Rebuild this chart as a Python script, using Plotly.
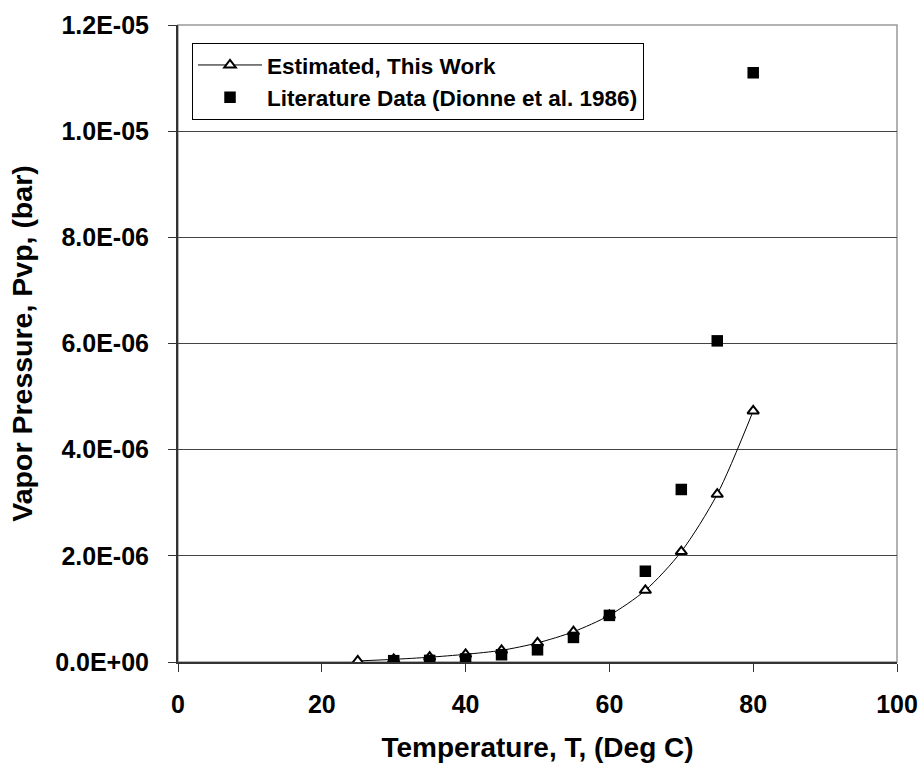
import plotly.graph_objects as go

# Temperature (deg C)
temp_est = [25, 30, 35, 40, 45, 50, 55, 60, 65, 70, 75, 80]
pvp_est = [0.02e-6, 0.05e-6, 0.09e-6, 0.145e-6, 0.22e-6, 0.36e-6, 0.57e-6,
           0.88e-6, 1.35e-6, 2.08e-6, 3.16e-6, 4.73e-6]

temp_lit = [30, 35, 40, 45, 50, 55, 60, 65, 70, 75, 80]
pvp_lit = [0.025e-6, 0.03e-6, 0.057e-6, 0.137e-6, 0.23e-6, 0.463e-6,
           0.878e-6, 1.71e-6, 3.25e-6, 6.05e-6, 1.11e-5]

x_ticks = [0, 20, 40, 60, 80, 100]
x_ticklabels = [f"<b>{v}</b>" for v in x_ticks]
y_ticks = [0, 2e-6, 4e-6, 6e-6, 8e-6, 1.0e-5, 1.2e-5]
y_ticklabels = [f"<b>{v:.1E}</b>" for v in y_ticks]

FONT = "Liberation Sans"

fig = go.Figure()
fig.add_trace(go.Scatter(
    x=temp_est, y=pvp_est, mode="lines+markers",
    name="<b>Estimated, This Work</b>",
    line=dict(color="black", width=1, shape="spline", smoothing=0.8),
    marker=dict(symbol="triangle-up", size=10, color="white",
                line=dict(color="black", width=2)),
))
fig.add_trace(go.Scatter(
    x=temp_lit, y=pvp_lit, mode="markers",
    name="<b>Literature Data (Dionne et al. 1986)</b>",
    marker=dict(symbol="square", size=11.5, color="black",
                line=dict(color="black", width=0)),
))

axis_common = dict(
    showline=True, linecolor="#333333", linewidth=2,
    ticks="outside", ticklen=8, tickcolor="#333333", tickwidth=1,
    tickfont=dict(family=FONT, size=25, color="black"),
    zeroline=False, automargin=False,
)

fig.update_xaxes(
    range=[0, 100], tickvals=x_ticks, ticktext=x_ticklabels, showgrid=False,
    ticklabelstandoff=11,
    title=dict(text="<b>Temperature, T, (Deg C)</b>", standoff=20,
               font=dict(family=FONT, size=28, color="black")),
    **axis_common,
)
fig.update_yaxes(
    range=[0, 1.2e-5], tickvals=y_ticks, ticktext=y_ticklabels,
    showgrid=True, gridcolor="#444444", gridwidth=1,
    ticklabelstandoff=14,
    title=dict(text="<b>Vapor Pressure, Pvp, (bar)</b>", standoff=14,
               font=dict(family=FONT, size=28.5, color="black")),
    **axis_common,
)

# light border around the plotting area (top and right edges)
fig.add_shape(type="rect", xref="paper", yref="paper", x0=0, x1=1, y0=0, y1=1,
              line=dict(color="#999999", width=1.5), layer="below")

fig.update_layout(
    width=922, height=765,
    margin=dict(l=178, r=25, t=25, b=103),
    plot_bgcolor="white", paper_bgcolor="white",
    showlegend=True,
    legend=dict(
        x=0.0195, y=0.972, xanchor="left", yanchor="top",
        bgcolor="white", bordercolor="black", borderwidth=1,
        font=dict(family=FONT, size=22.5, color="black"),
        itemwidth=64, tracegroupgap=0,
    ),
)

fig.write_html("out.html")
